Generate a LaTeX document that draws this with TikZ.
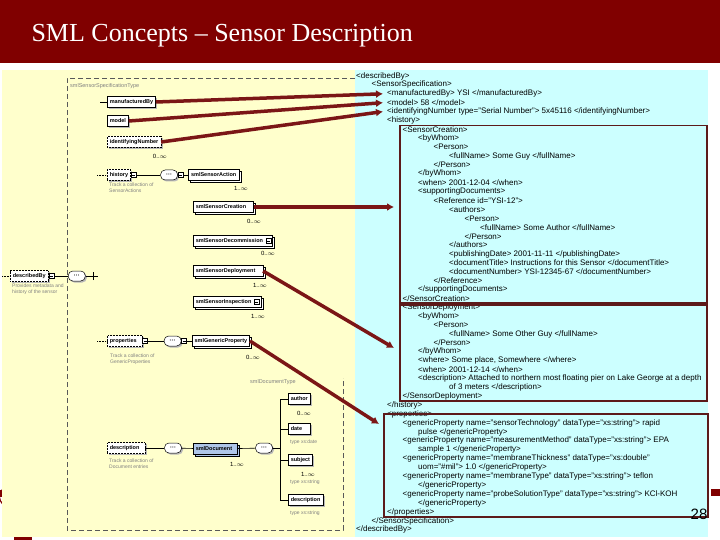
\documentclass[tikz,border=0pt]{standalone}
\usepackage{fontspec}
\setmainfont{Liberation Serif}
\setsansfont{Liberation Sans}
\usetikzlibrary{
    arrows.meta,
    positioning,
    calc,
    shadows
}
\definecolor{slidered}{HTML}{800000}
\definecolor{panelyellow}{HTML}{FFFFCC}
\definecolor{panelcyan}{HTML}{CCFFFF}
\definecolor{linkred}{HTML}{7B1616}
\definecolor{boxred}{HTML}{5C1A1A}
\definecolor{docblue}{HTML}{AFC6E9}
\definecolor{annotgray}{HTML}{808080}

% one line of the xml listing: level, line number, text
\newcommand{\xmlline}[3]{%
    \node[xmltext] (x#2) at ({356+15.5*#1},{76+8.9*(#2-1)}) {#3};}

\begin{document}
\begin{tikzpicture}[
    x=1pt, y=-1pt,
    font=\sffamily,
    basebox/.style={
        rectangle,
        draw=black,
        fill=white,
        line width=0.5pt,
        font=\sffamily\bfseries\fontsize{5.5}{7}\selectfont,
        inner xsep=2.5pt,
        inner ysep=0pt,
        minimum height=11pt
    },
    elem/.style={
        basebox,
        drop shadow={shadow xshift=1.8pt, shadow yshift=-1.8pt, fill=gray!55, opacity=1}
    },
    optelem/.style={
        elem,
        densely dotted
    },
    multielem/.style={
        basebox,
        copy shadow={shadow xshift=2pt, shadow yshift=-2pt}
    },
    reqmark/.style={
        path picture={\fill (path picture bounding box.north west) rectangle ([xshift=2pt,yshift=-2pt]path picture bounding box.north west);}
    },
    minusbox/.style={
        rectangle,
        draw=black,
        fill=white,
        line width=0.5pt,
        minimum size=5pt,
        inner sep=0pt,
        path picture={\draw ([xshift=1pt]path picture bounding box.west) -- ([xshift=-1pt]path picture bounding box.east);}
    },
    seqoval/.style={
        rectangle,
        rounded corners=4.5pt,
        draw=black,
        fill=white,
        line width=0.5pt,
        minimum width=17pt,
        minimum height=10pt,
        inner sep=0pt,
        font=\sffamily\bfseries\fontsize{6}{6}\selectfont,
        drop shadow={shadow xshift=1.5pt, shadow yshift=-1.5pt, fill=gray!55, opacity=1}
    },
    card/.style={
        font=\sffamily\fontsize{6}{6}\selectfont,
        inner sep=0pt
    },
    annot/.style={
        font=\sffamily\fontsize{5}{6}\selectfont,
        text=annotgray,
        align=left,
        anchor=north west,
        inner sep=0pt
    },
    typelabel/.style={
        font=\sffamily\fontsize{5.5}{6}\selectfont,
        text=annotgray,
        anchor=west,
        inner sep=0pt
    },
    xmltext/.style={
        font=\sffamily\fontsize{8}{9}\selectfont,
        anchor=west,
        inner sep=0pt
    },
    xmlbox/.style={
        rectangle,
        draw=boxred,
        line width=1.5pt,
        anchor=north west,
        inner sep=0pt
    },
    link/.style={
        draw=linkred,
        line width=3.5pt,
        -{Latex[length=7pt,width=8pt]}
    },
    wire/.style={
        draw=black,
        line width=0.6pt
    },
    dashbox/.style={
        draw=gray!70!black,
        dash pattern=on 5pt off 3pt,
        line width=0.6pt
    }
]
\useasboundingbox (0,0) rectangle (720,540);

% =====================================================
% Slide background
% =====================================================

\fill[slidered] (0,0) rectangle (720,63);
\node[font=\rmfamily\fontsize{26}{30}\selectfont, text=white, anchor=west] (title)
    at (28,36) {SML Concepts – Sensor Description};

\fill[slidered] (711,489) rectangle (720,496);
\fill[slidered] (0,490) rectangle (3,497);
\draw[slidered, line width=1.2pt] (6,506) arc[start angle=110, end angle=250, radius=10];
\fill[slidered] (14,537) rectangle (32,540);

\fill[panelyellow] (2,70) rectangle (355,537);
\fill[panelcyan] (355,70) rectangle (708,537);

% =====================================================
% Schema tree (left)
% =====================================================

\draw[dashbox] (355,78) -- (67,78) -- (67,530) -- (343,530) -- (343,378);
\node[typelabel] (spectype) at (70,86) {smlSensorSpecificationType};
\node[typelabel] (doctype) at (250,382) {smlDocumentType};

\node[elem, reqmark, anchor=west] (mfg) at (107,102) {manufacturedBy};
\node[elem, reqmark, anchor=west] (model) at (107,121) {model};
\node[optelem, anchor=west] (ident) at (107,142) {identifyingNumber};

\node[optelem, anchor=west] (history) at (107,175) {history};
\node[minusbox, right=0pt of history] (historym) {};
\node[seqoval, right=24pt of historym] (seqA) {···};
\node[minusbox, right=0pt of seqA] (seqAm) {};
\node[multielem, right=5pt of seqAm] (action) {smlSensorAction};

\node[multielem, anchor=west] (creation) at (193,207) {smlSensorCreation\kern5pt};
\node[multielem, anchor=west] (decomm) at (193,241) {smlSensorDecommission\kern7pt};
\node[minusbox, anchor=east] (decommm) at ([xshift=-1.5pt]decomm.east) {};
\node[multielem, anchor=west] (deploy) at (193,271) {smlSensorDeployment\kern5pt};
\node[multielem, anchor=west] (inspect) at (193,302) {smlSensorInspection\kern7pt};
\node[minusbox, anchor=east] (inspectm) at ([xshift=-1.5pt]inspect.east) {};

\node[optelem, anchor=west] (described) at (10,276) {describedBy};
\node[minusbox, right=0pt of described] (describedm) {};
\node[seqoval, right=14pt of describedm] (seqB) {···};
\coordinate (branchB) at (93,276);

\node[optelem, anchor=west] (props) at (107,341) {properties\kern3pt};
\node[minusbox, right=0pt of props] (propsm) {};
\node[seqoval, right=16pt of propsm] (seqC) {···};
\node[minusbox, right=0pt of seqC] (seqCm) {};
\node[multielem, right=5pt of seqCm] (generic) {smlGenericProperty};

\node[optelem, anchor=west] (descr) at (107,448) {description\kern3pt};
\node[seqoval] (seqD) at (173,448) {···};
\node[multielem, fill=docblue, anchor=west] (document) at (193,449) {smlDocument\kern3pt};
\node[seqoval] (seqE) at (264,448) {···};
\coordinate (bustop) at (280,399);
\coordinate (busbot) at (280,500);

\node[elem, reqmark, anchor=west] (author) at (288,399) {author};
\node[elem, reqmark, anchor=west] (date) at (288,429) {date\kern6pt};
\node[elem, reqmark, anchor=west] (subject) at (288,460) {subject};
\node[elem, reqmark, anchor=west] (docdesc) at (288,500) {description};

% lead-ins
\coordinate (mfglead) at (100,102);
\coordinate (historylead) at (97,175);
\coordinate (describedlead) at (2,276);
\coordinate (propslead) at (97,341);
\draw[wire] (mfglead) -- (mfg);
\draw[wire, densely dotted] (historylead) -- (history);
\draw[wire, densely dotted] (describedlead) -- (described);
\draw[wire, densely dotted] (propslead) -- (props);

% wires
\draw[wire] (historym) -- (seqA);
\draw[wire] (seqAm) -- (action);
\draw[wire] (describedm) -- (seqB);
\draw[wire] (seqB) -- (branchB);
\draw[wire] ([yshift=-4pt]branchB) -- ([yshift=4pt]branchB);
\draw[wire] (branchB) -- ++(5,0);
\draw[wire] (propsm) -- (seqC);
\draw[wire] (seqCm) -- (generic);
\draw[wire] (descr) -- (seqD);
\draw[wire] (seqD) -- (document);
\draw[wire] (document) -- (seqE);
\draw[wire] (seqE) -- (seqE -| bustop);
\draw[wire] (bustop) -- (busbot);
\draw[wire] (bustop) -- (author);
\draw[wire] (date -| bustop) -- (date);
\draw[wire] (subject -| bustop) -- (subject);
\draw[wire] (busbot) -- (docdesc);

% cardinalities
\node[card] (identcard) at (160,156) {0..$\infty$};
\node[card] (actioncard) at (241,188) {1..$\infty$};
\node[card] (creationcard) at (254,221) {0..$\infty$};
\node[card] (decommcard) at (268,253) {0..$\infty$};
\node[card] (deploycard) at (260,285) {1..$\infty$};
\node[card] (inspectcard) at (258,316) {1..$\infty$};
\node[card] (genericcard) at (253,357) {0..$\infty$};
\node[card] (documentcard) at (237,464) {1..$\infty$};
\node[card] (authorcard) at (304,413) {0..$\infty$};
\node[card] (subjectcard) at (308,474) {1..$\infty$};

% annotations
\node[annot] (historynote) at (109,183) {Track a collection of\\SensorActions};
\node[annot] (describednote) at (12,284) {Provides metadata and\\history of the sensor};
\node[annot] (propsnote) at (110,354) {Track a collection of\\GenericProperties};
\node[annot] (descrnote) at (109,459) {Track a collection of\\Document entries};
\node[annot] (datenote) at (290,440) {type xs:date};
\node[annot] (subjectnote) at (290,480) {type xs:string};
\node[annot] (docdescnote) at (290,511) {type xs:string};

% =====================================================
% XML instance (right)
% =====================================================

\xmlline{0}{1}{<describedBy>}
\xmlline{1}{2}{<SensorSpecification>}
\xmlline{2}{3}{<manufacturedBy> YSI </manufacturedBy>}
\xmlline{2}{4}{<model> 58 </model>}
\xmlline{2}{5}{<identifyingNumber type="Serial Number"> 5x45116 </identifyingNumber>}
\xmlline{2}{6}{<history>}
\xmlline{3}{7}{<SensorCreation>}
\xmlline{4}{8}{<byWhom>}
\xmlline{5}{9}{<Person>}
\xmlline{6}{10}{<fullName> Some Guy </fullName>}
\xmlline{5}{11}{</Person>}
\xmlline{4}{12}{</byWhom>}
\xmlline{4}{13}{<when> 2001-12-04 </when>}
\xmlline{4}{14}{<supportingDocuments>}
\xmlline{5}{15}{<Reference id="YSI-12">}
\xmlline{6}{16}{<authors>}
\xmlline{7}{17}{<Person>}
\xmlline{8}{18}{<fullName> Some Author </fullName>}
\xmlline{7}{19}{</Person>}
\xmlline{6}{20}{</authors>}
\xmlline{6}{21}{<publishingDate> 2001-11-11 </publishingDate>}
\xmlline{6}{22}{<documentTitle> Instructions for this Sensor </documentTitle>}
\xmlline{6}{23}{<documentNumber> YSI-12345-67 </documentNumber>}
\xmlline{5}{24}{</Reference>}
\xmlline{4}{25}{</supportingDocuments>}
\xmlline{3}{26}{</SensorCreation>}
\xmlline{3}{27}{<SensorDeployment>}
\xmlline{4}{28}{<byWhom>}
\xmlline{5}{29}{<Person>}
\xmlline{6}{30}{<fullName> Some Other Guy </fullName>}
\xmlline{5}{31}{</Person>}
\xmlline{4}{32}{</byWhom>}
\xmlline{4}{33}{<where> Some place, Somewhere </where>}
\xmlline{4}{34}{<when> 2001-12-14 </when>}
\xmlline{4}{35}{<description> Attached to northern most floating pier on Lake George at a depth}
\xmlline{6}{36}{of 3 meters </description>}
\xmlline{3}{37}{</SensorDeployment>}
\xmlline{2}{38}{</history>}
\xmlline{2}{39}{<properties>}
\xmlline{3}{40}{<genericProperty name="sensorTechnology" dataType="xs:string"> rapid}
\xmlline{4}{41}{pulse </genericProperty>}
\xmlline{3}{42}{<genericProperty name="measurementMethod" dataType="xs:string"> EPA}
\xmlline{4}{43}{sample 1 </genericProperty>}
\xmlline{3}{44}{<genericProperty name="membraneThickness" dataType="xs:double"}
\xmlline{4}{45}{uom="\#mil"> 1.0 </genericProperty>}
\xmlline{3}{46}{<genericProperty name="membraneType" dataType="xs:string"> teflon}
\xmlline{4}{47}{</genericProperty>}
\xmlline{3}{48}{<genericProperty name="probeSolutionType" dataType="xs:string"> KCl-KOH}
\xmlline{4}{49}{</genericProperty>}
\xmlline{2}{50}{</properties>}
\xmlline{1}{51}{</SensorSpecification>}
\xmlline{0}{52}{</describedBy>}

\node[xmlbox, minimum width=307, minimum height=177] (crbox) at (399,125) {};
\node[xmlbox, minimum width=307, minimum height=96] (depbox) at (399,304) {};
\node[xmlbox, minimum width=324, minimum height=103] (propbox) at (383,413) {};

\node[font=\sffamily\fontsize{15}{15}\selectfont, inner sep=0pt] (pagenum) at (699,514) {28};

% =====================================================
% Links from schema to instance
% =====================================================

\draw[link] (mfg.east) -- ([xshift=-4pt]x3.west);
\draw[link] (model.east) -- ([xshift=-4pt]x4.west);
\draw[link] (ident.east) -- ([xshift=-4pt]x5.west);
\draw[link] (creation.east) -- ($(crbox.north west)+(-5,82)$);
\draw[link] (deploy.east) -- ($(depbox.north west)+(-5,44)$);
\draw[link] (generic.east) -- ($(propbox.north west)+(-4,11)$);

\end{tikzpicture}
\end{document}
